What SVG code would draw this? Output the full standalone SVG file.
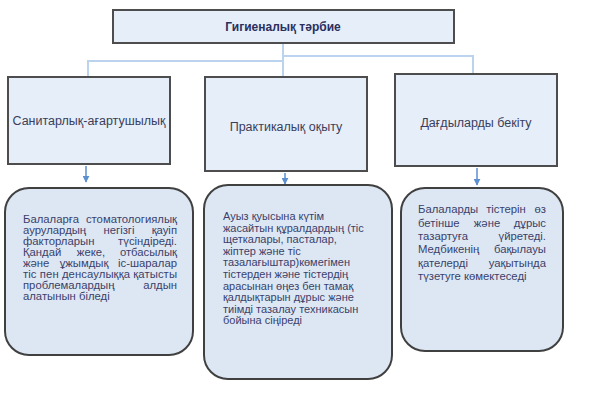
<svg xmlns="http://www.w3.org/2000/svg" width="599" height="404" viewBox="0 0 599 404">
<defs>
<marker id="ah" viewBox="0 0 10 10" refX="9" refY="5" markerWidth="7" markerHeight="7" markerUnits="userSpaceOnUse" orient="auto">
<path d="M0,0 L10,5 L0,10 z" fill="#5b8fd0"/>
</marker>
</defs>
<style>
.hdr{fill:#e6eef9;stroke:#4d4d4d;stroke-width:2}
.card{fill:#dde7f3;stroke:#404040;stroke-width:2}
.lbl{font-family:"Liberation Sans",Arial,sans-serif;font-size:12.5px;fill:#3a3d5c}
.ttl{font-family:"Liberation Sans",Arial,sans-serif;font-size:12px;font-weight:bold;fill:#2b2f5e}
.bt{font-family:"Liberation Sans",Arial,sans-serif;font-size:11.3px;fill:#3b3f6b}
.bt2{font-family:"Liberation Sans",Arial,sans-serif;font-size:11px;fill:#3b3f6b}
.conn{fill:none;stroke:#bcd3ee;stroke-width:2}
.arr{stroke:#5b8fd0;stroke-width:1.5}
</style>
<g id="connectors">
<path class="conn" d="M283,43 V77 M283,61 H88 V77 M283,56 H473 V74"/>
<line class="arr" x1="86" y1="166" x2="86" y2="182" marker-end="url(#ah)"/>
<line class="arr" x1="285" y1="173" x2="285" y2="184" marker-end="url(#ah)"/>
<line class="arr" x1="477" y1="168" x2="477" y2="185" marker-end="url(#ah)"/>
</g>
<g id="title">
<rect class="hdr" x="113" y="10" width="341" height="33"/>
<text class="ttl" x="283" y="31" text-anchor="middle">Гигиеналық тәрбие</text>
</g>
<g id="n1">
<rect class="hdr" x="8" y="77" width="162" height="87"/>
<text class="lbl" x="89" y="125" text-anchor="middle">Санитарлық-ағартушылық</text>
</g>
<g id="n2">
<rect class="hdr" x="205" y="77" width="162" height="94"/>
<text class="lbl" x="286" y="131" text-anchor="middle">Практикалық оқыту</text>
</g>
<g id="n3">
<rect class="hdr" x="395" y="74" width="162" height="92"/>
<text class="lbl" x="476" y="127" text-anchor="middle">Дағдыларды бекіту</text>
</g>
<g id="d1">
<rect class="card" x="5" y="188" width="188" height="167" rx="24"/>
<text class="bt" y="223"><tspan x="23">Балаларға</tspan><tspan x="177" text-anchor="end">стоматологиялық</tspan></text>
<text class="bt" y="234"><tspan x="23">аурулардың</tspan><tspan x="119" text-anchor="middle">негізгі</tspan><tspan x="177" text-anchor="end">қауіп</tspan></text>
<text class="bt" y="245"><tspan x="23">факторларын</tspan><tspan x="177" text-anchor="end">түсіндіреді.</tspan></text>
<text class="bt" y="256"><tspan x="23">Қандай</tspan><tspan x="91" text-anchor="middle">жеке,</tspan><tspan x="177" text-anchor="end">отбасылық</tspan></text>
<text class="bt" y="267"><tspan x="23">және</tspan><tspan x="84" text-anchor="middle">ұжымдық</tspan><tspan x="177" text-anchor="end">іс-шаралар</tspan></text>
<text class="bt" x="23" y="278" textLength="154" lengthAdjust="spacing">тіс пен денсаулыққа қатысты</text>
<text class="bt" y="289"><tspan x="23">проблемалардың</tspan><tspan x="177" text-anchor="end">алдын</tspan></text>
<text class="bt" x="23" y="300">алатынын біледі</text>
</g>
<g id="d2">
<rect class="card" x="204" y="185" width="188" height="194" rx="24"/>
<text class="bt2" x="223" y="220">Ауыз қуысына күтім</text>
<text class="bt2" x="223" y="231.6">жасайтын құралдардың (тіс</text>
<text class="bt2" x="223" y="243.2">щеткалары, пасталар,</text>
<text class="bt2" x="223" y="254.8">жіптер және тіс</text>
<text class="bt2" x="223" y="266.4">тазалағыштар)көмегімен</text>
<text class="bt2" x="223" y="278">тістерден және тістердің</text>
<text class="bt2" x="223" y="289.6">арасынан өңез бен тамақ</text>
<text class="bt2" x="223" y="301.2">қалдықтарын дұрыс және</text>
<text class="bt2" x="223" y="312.8">тиімді тазалау техникасын</text>
<text class="bt2" x="223" y="324.4">бойына сіңіреді</text>
</g>
<g id="d3">
<rect class="card" x="401" y="188" width="162" height="163" rx="24"/>
<text class="bt" y="213"><tspan x="418">Балаларды</tspan><tspan x="506" text-anchor="middle">тістерін</tspan><tspan x="546" text-anchor="end">өз</tspan></text>
<text class="bt" y="227"><tspan x="418">бетінше</tspan><tspan x="487" text-anchor="middle">және</tspan><tspan x="546" text-anchor="end">дұрыс</tspan></text>
<text class="bt" y="240"><tspan x="418">тазартуға</tspan><tspan x="546" text-anchor="end">үйретеді.</tspan></text>
<text class="bt" y="253"><tspan x="418">Медбикенің</tspan><tspan x="546" text-anchor="end">бақылауы</tspan></text>
<text class="bt" y="267"><tspan x="418">қателерді</tspan><tspan x="546" text-anchor="end">уақытында</tspan></text>
<text class="bt" x="418" y="280">түзетуге көмектеседі</text>
</g>
</svg>
